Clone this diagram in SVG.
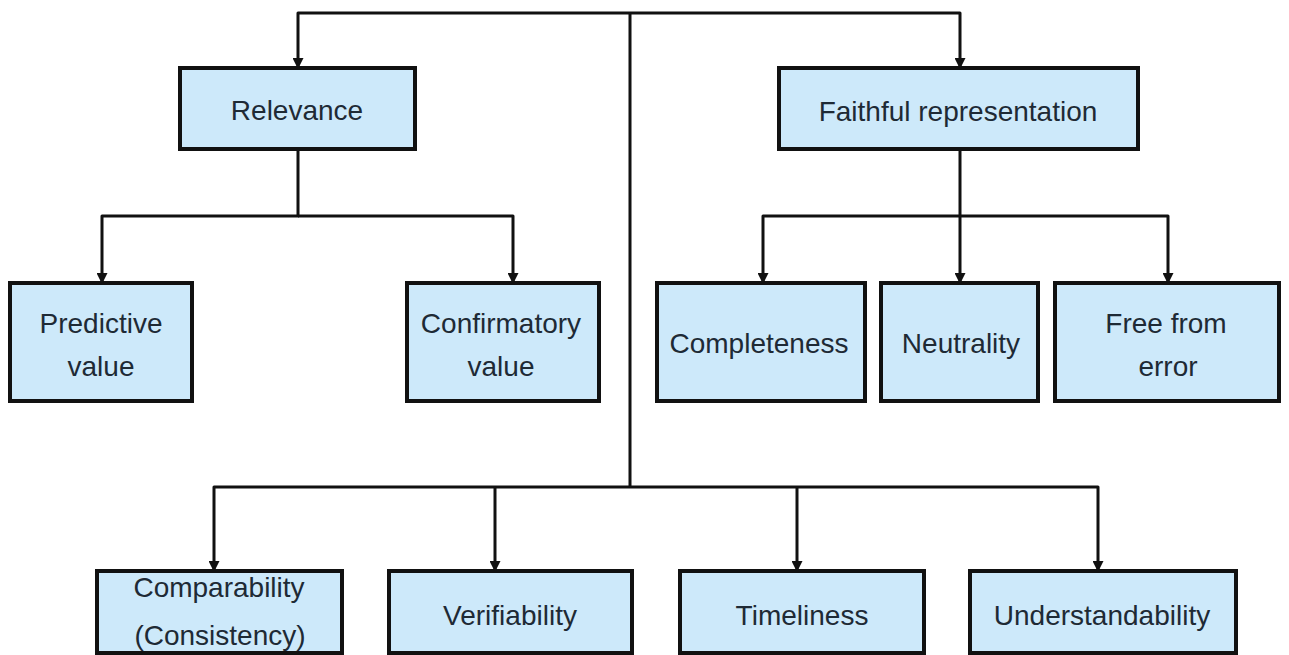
<svg xmlns="http://www.w3.org/2000/svg" width="1289" height="655" viewBox="0 0 1289 655">
  <style>
    .box { fill: #cde9fa; stroke: #111; stroke-width: 4; }
    .lbl { font-family: "Liberation Sans", Arial, sans-serif; font-size: 28px; fill: #1e2a35; text-anchor: middle; }
    .conn { fill: none; stroke: #111; stroke-width: 3; stroke-linejoin: round; }
  </style>
  <defs>
    <marker id="arr" markerUnits="userSpaceOnUse" markerWidth="11" markerHeight="11" refX="10" refY="5.5" orient="auto">
      <path d="M0,0 L11,5.5 L0,11 z" fill="#111"/>
    </marker>
  </defs>
  <rect width="1289" height="655" fill="#fff"/>

  <g id="connectors">
    <path class="conn" d="M630,13 H298 V68" marker-end="url(#arr)"/>
    <path class="conn" d="M630,13 H960 V68" marker-end="url(#arr)"/>
    <path class="conn" d="M630,13 V487"/>
    <path class="conn" d="M298,150 V216 H102 V283" marker-end="url(#arr)"/>
    <path class="conn" d="M298,216 H513 V283" marker-end="url(#arr)"/>
    <path class="conn" d="M960,150 V283" marker-end="url(#arr)"/>
    <path class="conn" d="M960,216 H763 V283" marker-end="url(#arr)"/>
    <path class="conn" d="M960,216 H1168 V283" marker-end="url(#arr)"/>
    <path class="conn" d="M630,487 H214 V571" marker-end="url(#arr)"/>
    <path class="conn" d="M495,487 V571" marker-end="url(#arr)"/>
    <path class="conn" d="M797,487 V571" marker-end="url(#arr)"/>
    <path class="conn" d="M630,487 H1098 V571" marker-end="url(#arr)"/>
  </g>

  <g id="relevance">
    <rect class="box" x="180" y="68" width="235" height="81"/>
    <text class="lbl" x="297" y="120">Relevance</text>
  </g>
  <g id="faithful-representation">
    <rect class="box" x="779" y="68" width="359" height="81"/>
    <text class="lbl" x="958" y="121">Faithful representation</text>
  </g>
  <g id="predictive-value">
    <rect class="box" x="10" y="283" width="182" height="118"/>
    <text class="lbl" x="101" y="333">Predictive</text>
    <text class="lbl" x="101" y="376">value</text>
  </g>
  <g id="confirmatory-value">
    <rect class="box" x="407" y="283" width="192" height="118"/>
    <text class="lbl" x="501" y="333">Confirmatory</text>
    <text class="lbl" x="501" y="376">value</text>
  </g>
  <g id="completeness">
    <rect class="box" x="657" y="283" width="208" height="118"/>
    <text class="lbl" x="759" y="353">Completeness</text>
  </g>
  <g id="neutrality">
    <rect class="box" x="881" y="283" width="157" height="118"/>
    <text class="lbl" x="961" y="353">Neutrality</text>
  </g>
  <g id="free-from-error">
    <rect class="box" x="1055" y="283" width="224" height="118"/>
    <text class="lbl" x="1166" y="333">Free from</text>
    <text class="lbl" x="1168" y="376">error</text>
  </g>
  <g id="comparability">
    <rect class="box" x="97" y="571" width="245" height="82"/>
    <text class="lbl" x="219" y="597">Comparability</text>
    <text class="lbl" x="220" y="645">(Consistency)</text>
  </g>
  <g id="verifiability">
    <rect class="box" x="389" y="571" width="243" height="82"/>
    <text class="lbl" x="510" y="625">Verifiability</text>
  </g>
  <g id="timeliness">
    <rect class="box" x="680" y="571" width="244" height="82"/>
    <text class="lbl" x="802" y="625">Timeliness</text>
  </g>
  <g id="understandability">
    <rect class="box" x="970" y="571" width="266" height="82"/>
    <text class="lbl" x="1102" y="625">Understandability</text>
  </g>
</svg>
